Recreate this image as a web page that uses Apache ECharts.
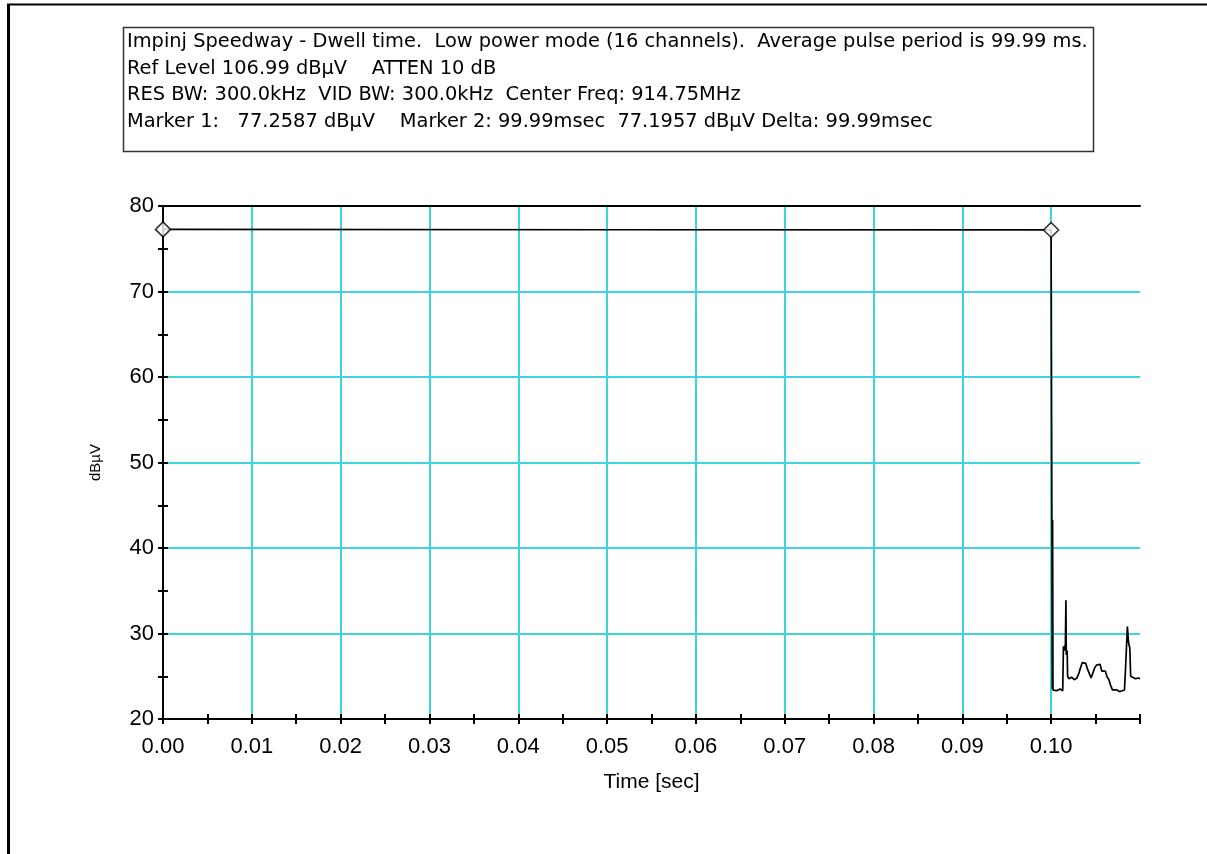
<!DOCTYPE html>
<html>
<head>
<meta charset="utf-8">
<script src="https://cdn.jsdelivr.net/npm/echarts@6/dist/echarts.min.js"></script>
<style>
html,body{margin:0;padding:0;background:#fff;}
#chart{width:1207px;height:854px;}
</style>
</head>
<body>
<div id="chart"></div>
<script>
// ---- data ----
const headerLines = [
  'Impinj Speedway - Dwell time.  Low power mode (16 channels).  Average pulse period is 99.99 ms.',
  'Ref Level 106.99 dBµV    ATTEN 10 dB',
  'RES BW: 300.0kHz  VID BW: 300.0kHz  Center Freq: 914.75MHz',
  'Marker 1:   77.2587 dBµV    Marker 2: 99.99msec  77.1957 dBµV Delta: 99.99msec'
];
const xTitle = 'Time [sec]';
const yTitle = 'dBµV';
const traceTime = [0.0000, 0.0500, 0.09999, 0.10010, 0.10013, 0.10016, 0.10020, 0.10060, 0.10100, 0.10130,
  0.10138, 0.10150, 0.10160, 0.10166, 0.10170, 0.10180, 0.10185, 0.10200, 0.10230, 0.10260,
  0.10290, 0.10310, 0.10330, 0.10350, 0.10370, 0.10390, 0.10410, 0.10430, 0.10450, 0.10470,
  0.10490, 0.10510, 0.10530, 0.10550, 0.10570, 0.10590, 0.10610, 0.10630, 0.10650, 0.10670,
  0.10690, 0.10710, 0.10740, 0.10770, 0.10800, 0.10825, 0.10835, 0.10850, 0.10858, 0.10870,
  0.10885, 0.10895, 0.10910, 0.10950, 0.10980, 0.11000];
const traceLevel = [77.26, 77.22, 77.20, 77.20, 23.5, 43.3, 23.4, 23.3, 23.5, 23.3,
  28.5, 28.0, 28.8, 33.9, 27.5, 28.0, 25.0, 24.7, 24.9, 24.6,
  24.8, 25.3, 26.0, 26.6, 26.4, 26.5, 25.8, 25.7, 24.8, 25.0,
  26.0, 26.3, 26.2, 26.4, 25.6, 25.4, 25.6, 24.9, 24.6, 23.9,
  23.4, 23.3, 23.4, 23.2, 23.3, 23.4, 25.4, 25.6, 30.8, 29.0,
  28.3, 25.0, 24.8, 24.7, 24.8, 24.7];
const markerTime = [0.0000, 0.09999];
const markerLevel = [77.2587, 77.1957];
const xMin = 0, xMax = 0.11, xStep = 0.01;
const yMin = 20, yMax = 80, yStep = 10;

// ---- chart ----
const chart = echarts.init(document.getElementById('chart'), null, {renderer: 'canvas'});
const tickFont = "'Liberation Sans', Arial, sans-serif";
const textFont = "'DejaVu Sans', 'Liberation Sans', Arial, sans-serif";
const cyan = '#3ad6da';

const G = {left: 163, right: 67, top: 206, bottom: 135};

function baseX(extra) {
  return Object.assign({
    type: 'value', min: xMin, max: xMax, interval: xStep, gridIndex: 0,
    axisLine: {show: false}, axisTick: {show: false}, axisLabel: {show: false},
    splitLine: {show: false}, minorTick: {show: false}, minorSplitLine: {show: false}
  }, extra);
}
function baseY(extra) {
  return Object.assign({
    type: 'value', min: yMin, max: yMax, interval: yStep, gridIndex: 0,
    axisLine: {show: false}, axisTick: {show: false}, axisLabel: {show: false},
    splitLine: {show: false}, minorTick: {show: false}, minorSplitLine: {show: false}
  }, extra);
}

const lineCenters = [41.5, 69, 95, 121.5];
const headerGraphics = headerLines.map((t, i) => ({
  type: 'text', x: 127, y: lineCenters[i],
  style: {text: t, font: "19.4px " + textFont, fill: '#000', verticalAlign: 'middle', align: 'left'}
}));

const option = {
  backgroundColor: '#fff',
  animation: false,
  grid: Object.assign({containLabel: false}, G),
  xAxis: [
    baseX({
      position: 'bottom',
      name: xTitle, nameLocation: 'middle', nameGap: 53,
      nameTextStyle: {fontFamily: tickFont, fontSize: 21, color: '#000'},
      axisLine: {show: true, lineStyle: {color: '#000', width: 2}},
      axisTick: {show: true, inside: false, length: 5, lineStyle: {color: '#000', width: 2}},
      minorTick: {show: true, splitNumber: 2, length: 5, lineStyle: {color: '#000', width: 2}},
      axisLabel: {show: true, margin: 17, fontFamily: tickFont, fontSize: 22, color: '#000',
        formatter: v => (v > 0.1005 ? '' : v.toFixed(2))},
      splitLine: {show: true, showMinLine: false, showMaxLine: false, lineStyle: {color: cyan, width: 2}}
    }),
    baseX({
      position: 'bottom',
      axisTick: {show: true, inside: true, length: 5, lineStyle: {color: '#000', width: 2}},
      minorTick: {show: true, splitNumber: 2, length: 5, lineStyle: {color: '#000', width: 2}}
    }),
    baseX({
      position: 'top',
      axisLine: {show: true, lineStyle: {color: '#000', width: 2}}
    })
  ],
  yAxis: [
    baseY({
      position: 'left',
      name: yTitle, nameLocation: 'middle', nameGap: 60, nameRotate: 90,
      nameTextStyle: {fontFamily: tickFont, fontSize: 15, color: '#000'},
      axisLine: {show: true, lineStyle: {color: '#000', width: 2}},
      axisTick: {show: true, inside: false, length: 5, lineStyle: {color: '#000', width: 2}},
      minorTick: {show: true, splitNumber: 2, length: 5, lineStyle: {color: '#000', width: 2}},
      axisLabel: {show: true, margin: 9, fontFamily: tickFont, fontSize: 22, color: '#000'},
      splitLine: {show: true, showMinLine: false, showMaxLine: false, lineStyle: {color: cyan, width: 2}}
    }),
    baseY({
      position: 'left',
      axisTick: {show: true, inside: true, length: 5, lineStyle: {color: '#000', width: 2}},
      minorTick: {show: true, splitNumber: 2, length: 5, lineStyle: {color: '#000', width: 2}}
    }),
    baseY({
      position: 'right',
      axisLine: {show: true, lineStyle: {color: '#000', width: 2}}
    })
  ],
  series: [
    {
      type: 'line', xAxisIndex: 0, yAxisIndex: 0, symbol: 'none', z: 5,
      lineStyle: {color: '#000', width: 1.7},
      data: traceTime.map((t, i) => [t, traceLevel[i]])
    },
    {
      type: 'scatter', xAxisIndex: 0, yAxisIndex: 0, symbol: 'diamond', symbolSize: [15, 15], z: 6,
      itemStyle: {color: '#fff', borderColor: '#000', borderWidth: 1.6},
      data: markerTime.map((t, i) => [t, markerLevel[i]])
    }
  ],
  graphic: [
    {type: 'line', shape: {x1: 8.5, y1: 4, x2: 8.5, y2: 854}, style: {stroke: '#000', lineWidth: 3}},
    {type: 'line', shape: {x1: 7, y1: 4.5, x2: 1207, y2: 4.5}, style: {stroke: '#000', lineWidth: 2}},
    {type: 'rect', shape: {x: 123.5, y: 27.5, width: 970, height: 124}, style: {fill: '#fff', stroke: '#333', lineWidth: 1.5}}
  ].concat(headerGraphics)
};
chart.setOption(option);
</script>
</body>
</html>
